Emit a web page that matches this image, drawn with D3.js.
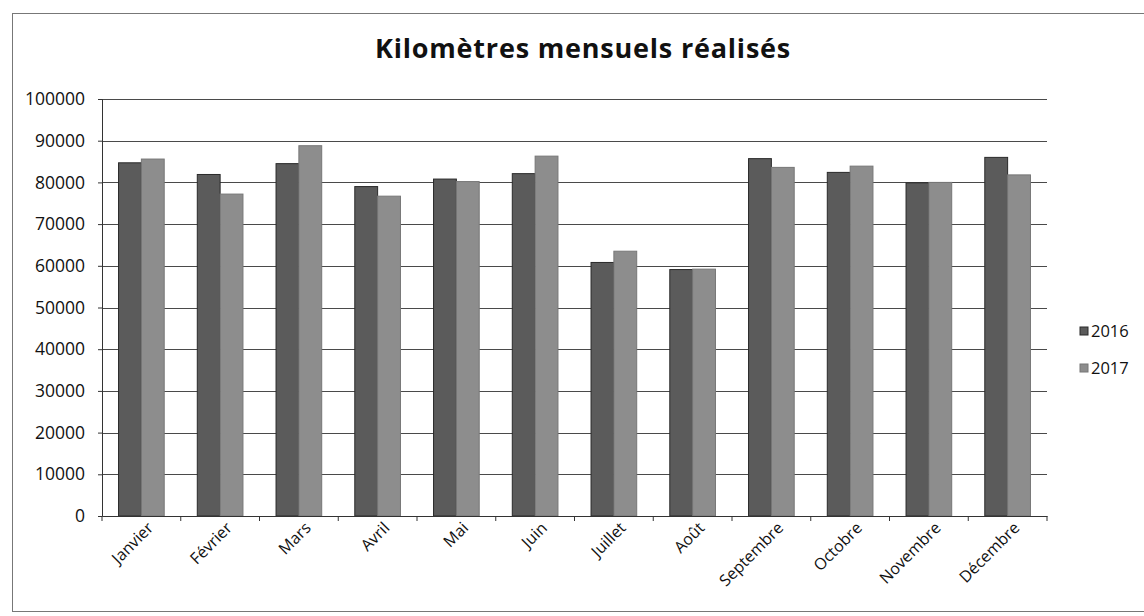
<!DOCTYPE html>
<html>
<head>
<meta charset="utf-8">
<script src="https://cdn.jsdelivr.net/npm/d3@7"></script>
<style>
  body { margin: 0; background: #fff; }
  text { font-family: "Open Sans", "Noto Sans", sans-serif; fill: #111; }
</style>
</head>
<body>
<div id="chart"></div>
<script>
var mois = ["Janvier", "Février", "Mars", "Avril", "Mai", "Juin", "Juillet", "Août", "Septembre", "Octobre", "Novembre", "Décembre"];
var annees = ["2016", "2017"];
var km2016 = [84700, 81900, 84500, 79000, 80800, 82100, 60800, 59100, 85700, 82400, 79900, 86000];
var km2017 = [85600, 77200, 88800, 76700, 80200, 86300, 63500, 59200, 83600, 83900, 80000, 81800];
var yTicks = [0, 10000, 20000, 30000, 40000, 50000, 60000, 70000, 80000, 90000, 100000];
var couleurs = ["#5b5b5b", "#8d8d8d"];

var width = 1144,
    height = 616;

var svg = d3.select("#chart").append("svg")
    .attr("width", width)
    .attr("height", height);

// cadre
svg.append("rect")
    .attr("x", 12.5).attr("y", 13.5)
    .attr("width", 1140).attr("height", 598)
    .attr("fill", "none")
    .attr("stroke", "#777")
    .attr("stroke-width", 1);

svg.append("text")
    .attr("x", 583).attr("y", 58)
    .attr("text-anchor", "middle")
    .style("font-size", "27px")
    .style("font-weight", "bold")
    .style("letter-spacing", "0.8px")
    .text("Kilomètres mensuels réalisés");

var gauche = 102, droite = 1047, haut = 99, bas = 516;

var x0 = d3.scaleBand().domain(mois).range([gauche, droite]).padding(0);
var x1 = d3.scaleBand().domain(annees)
    .range([x0.bandwidth() * 0.21, x0.bandwidth() * 0.79]).padding(0);
var y = d3.scaleLinear().domain([0, 100000]).range([bas, haut]);

// grille
svg.append("g").selectAll("line")
    .data(yTicks.slice(1))
    .enter().append("line")
    .attr("x1", gauche).attr("x2", droite)
    .attr("y1", function(d) { return Math.round(y(d)) + 0.5; })
    .attr("y2", function(d) { return Math.round(y(d)) + 0.5; })
    .attr("stroke", "#4a4a4a")
    .attr("stroke-width", 1.2);

var series = [km2016, km2017];

var groupe = svg.append("g").selectAll("g")
    .data(mois)
    .enter().append("g")
    .attr("transform", function(d) { return "translate(" + x0(d) + ",0)"; });

groupe.selectAll("rect")
    .data(function(d, i) { return annees.map(function(a, j) { return { annee: a, valeur: series[j][i], j: j }; }); })
    .enter().append("rect")
    .attr("x", function(d) { return x1(d.annee); })
    .attr("width", x1.bandwidth())
    .attr("y", function(d) { return y(d.valeur); })
    .attr("height", function(d) { return bas - y(d.valeur); })
    .attr("fill", function(d) { return couleurs[d.j]; })
    .attr("stroke", function(d) { return d.j === 0 ? "#2a2a2a" : "#777"; })
    .attr("stroke-width", 1);

// axe Y
var axeY = svg.append("g")
    .attr("transform", "translate(" + gauche + ",0)")
    .call(d3.axisLeft(y).tickValues(yTicks).tickSize(4).tickPadding(13).tickFormat(d3.format("d")));
axeY.selectAll("text").style("font-size", "17.5px").style("font-family", "'Open Sans', sans-serif");
axeY.selectAll("line, path").attr("stroke", "#333");

// axe X
var axeX = svg.append("g")
    .attr("transform", "translate(0," + bas + ")")
    .call(d3.axisBottom(x0).tickSize(0).tickPadding(0));
axeX.select(".domain").attr("stroke", "#333");
axeX.selectAll(".tick line").remove();
axeX.selectAll("text")
    .style("font-size", "16px")
    .style("font-family", "'Open Sans', sans-serif")
    .attr("text-anchor", "end")
    .attr("dy", "0.35em")
    .attr("transform", "translate(9,9) rotate(-45)");

svg.append("g").selectAll("line")
    .data(d3.range(mois.length + 1))
    .enter().append("line")
    .attr("x1", function(i) { return gauche + i * x0.step(); })
    .attr("x2", function(i) { return gauche + i * x0.step(); })
    .attr("y1", bas).attr("y2", bas + 5)
    .attr("stroke", "#333");

// légende
var legende = svg.append("g").selectAll("g")
    .data(annees)
    .enter().append("g")
    .attr("transform", function(d, i) { return "translate(1080," + (331 + i * 37) + ")"; });
legende.append("rect")
    .attr("x", 0).attr("y", -4)
    .attr("width", 8).attr("height", 8)
    .attr("fill", function(d, i) { return couleurs[i]; })
    .attr("stroke", function(d, i) { return i === 0 ? "#2a2a2a" : "#777"; });
legende.append("text")
    .attr("x", 11).attr("y", 0)
    .attr("dy", "0.35em")
    .style("font-size", "16.5px")
    .text(function(d) { return d; });
</script>
</body>
</html>
